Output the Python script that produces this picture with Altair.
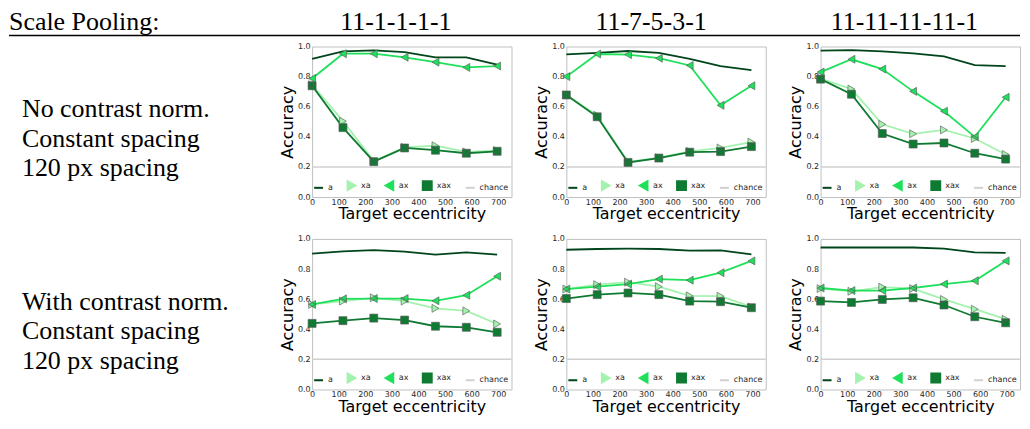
import altair as alt
import pandas as pd

# ---------------- data ----------------
ecc = [0, 116, 232, 348, 464, 580, 696]
series_names = ["a", "xa", "ax", "xax", "chance"]
chance_level = 0.2

# row 1 (no contrast norm.)
p11_a = [0.917, 0.967, 0.974, 0.963, 0.928, 0.928, 0.880]
p11_xa = [0.746, 0.504, 0.239, 0.330, 0.341, 0.300, 0.309]
p11_ax = [0.787, 0.952, 0.952, 0.928, 0.896, 0.861, 0.870]
p11_xax = [0.739, 0.461, 0.235, 0.326, 0.311, 0.291, 0.304]

p12_a = [0.948, 0.957, 0.970, 0.957, 0.917, 0.870, 0.843]
p12_xa = [0.678, 0.543, 0.233, 0.261, 0.304, 0.326, 0.365]
p12_ax = [0.800, 0.950, 0.946, 0.922, 0.874, 0.609, 0.739]
p12_xax = [0.678, 0.533, 0.230, 0.259, 0.298, 0.302, 0.335]

p13_a = [0.972, 0.976, 0.967, 0.954, 0.935, 0.876, 0.870]
p13_xa = [0.787, 0.717, 0.483, 0.420, 0.446, 0.389, 0.283]
p13_ax = [0.830, 0.915, 0.850, 0.702, 0.570, 0.400, 0.663]
p13_xax = [0.783, 0.683, 0.422, 0.352, 0.359, 0.291, 0.252]

# row 2 (with contrast norm.)
p21_a = [0.902, 0.917, 0.926, 0.915, 0.896, 0.911, 0.896]
p21_xa = [0.565, 0.587, 0.609, 0.587, 0.539, 0.522, 0.435]
p21_ax = [0.565, 0.602, 0.604, 0.604, 0.589, 0.626, 0.752]
p21_xax = [0.439, 0.457, 0.474, 0.461, 0.420, 0.413, 0.380]

p22_a = [0.928, 0.933, 0.935, 0.933, 0.922, 0.924, 0.898]
p22_xa = [0.667, 0.696, 0.713, 0.683, 0.622, 0.620, 0.548]
p22_ax = [0.667, 0.683, 0.700, 0.733, 0.726, 0.776, 0.854]
p22_xax = [0.604, 0.630, 0.641, 0.630, 0.587, 0.583, 0.543]

p23_a = [0.943, 0.943, 0.943, 0.943, 0.935, 0.911, 0.907]
p23_xa = [0.670, 0.652, 0.680, 0.670, 0.598, 0.533, 0.467]
p23_ax = [0.674, 0.657, 0.657, 0.674, 0.700, 0.722, 0.854]
p23_xax = [0.587, 0.578, 0.598, 0.609, 0.561, 0.483, 0.443]

corner_header = "Scale Pooling:"
col_headers = ["11-1-1-1-1", "11-7-5-3-1", "11-11-11-11-1"]
row_labels = [
    ["No contrast norm.", "Constant spacing", "120 px spacing"],
    ["With contrast norm.", "Constant spacing", "120 px spacing"],
]
x_ticks = [0, 100, 200, 300, 400, 500, 600, 700]
y_ticks = [0.0, 0.2, 0.4, 0.6, 0.8, 1.0]

panels = [
    [(p11_a, p11_xa, p11_ax, p11_xax), (p12_a, p12_xa, p12_ax, p12_xax), (p13_a, p13_xa, p13_ax, p13_xax)],
    [(p21_a, p21_xa, p21_ax, p21_xax), (p22_a, p22_xa, p22_ax, p22_xax), (p23_a, p23_xa, p23_ax, p23_xax)],
]

# ---------------- style ----------------
colors = ["#00441b", "#a3f2ad", "#1fe05a", "#0e7a32", "#d0d0d0"]
shapes = ["stroke", "triangle-right", "triangle-left", "square", "stroke"]
PW, PH = 200, 151
LABEL_W = 249
HSP = 55
VSP = 42
TOTAL_W = LABEL_W + 3 * PW + 3 * HSP
SERIF = "Liberation Serif"
SANS = "DejaVu Sans"


def make_legend():
    return alt.Legend(
        title=None, orient="none", legendX=1, legendY=134,
        direction="horizontal", columns=5, columnPadding=10, gridAlign="each",
        labelFont=SANS, labelFontSize=8, labelColor="#222222", labelOffset=4,
        symbolSize=80, symbolStrokeWidth=2, padding=0, rowPadding=0,
    )


def panel(vals):
    rows = []
    for name, ys in zip(series_names[:4], vals):
        for xv, yv in zip(ecc, ys):
            rows.append({"series": name, "ecc": xv, "acc": yv})
    df = pd.DataFrame(rows)
    chance_df = pd.DataFrame({"series": ["chance"], "acc": [chance_level]})

    xenc = alt.X("ecc:Q", scale=alt.Scale(domain=[0, 750], nice=False),
                 axis=alt.Axis(values=x_ticks, title="Target eccentricity"))
    yenc = alt.Y("acc:Q", scale=alt.Scale(domain=[0, 1], nice=False),
                 axis=alt.Axis(values=y_ticks, format=".1f", title="Accuracy"))
    cscale = alt.Scale(domain=series_names, range=colors)
    sscale = alt.Scale(domain=series_names, range=shapes)

    rule = alt.Chart(chance_df).mark_rule(strokeWidth=1.5).encode(
        y=yenc, color=alt.Color("series:N", scale=cscale, legend=make_legend()))
    lines = alt.Chart(df).mark_line(strokeWidth=1.8).encode(
        x=xenc, y=yenc, color=alt.Color("series:N", scale=cscale, legend=make_legend()))
    pts = alt.Chart(df).transform_filter(alt.datum.series != "a").mark_point(
        filled=True, size=64, opacity=1).encode(
        x=xenc, y=yenc,
        color=alt.Color("series:N", scale=cscale, legend=make_legend()),
        shape=alt.Shape("series:N", scale=sscale, legend=make_legend()))
    outline = alt.Chart(df).transform_filter(alt.datum.series != "a").mark_point(
        filled=False, size=64, color="#5a5a5a", strokeWidth=0.8, opacity=0.8).encode(
        x=xenc, y=yenc, shape=alt.Shape("series:N", scale=sscale, legend=None))
    return alt.layer(rule, lines, pts, outline).properties(width=PW, height=PH)


# header items live in the first label cell (drawn above it)
hdf = pd.DataFrame({"h": [corner_header] + col_headers, "i": list(range(4))})
header_x = [0, 388, 644, 898]
header_align = ["left", "center", "center", "center"]


def row_label(lines, with_header):
    df = pd.DataFrame({"label": ["\n".join(lines)]})
    layers = [alt.Chart(df).mark_text(
        align="left", baseline="alphabetic", font=SERIF, fontSize=26,
        lineHeight=29.5, lineBreak="\n", color="black").encode(
        text="label:N", x=alt.value(13), y=alt.value(71))]
    if with_header:
        for k in range(4):
            layers.append(
                alt.Chart(hdf).transform_filter(alt.datum.i == k).mark_text(
                    align=header_align[k], baseline="alphabetic", font=SERIF,
                    fontSize=26, color="black").encode(
                    text="h:N", x=alt.value(header_x[k]), y=alt.value(-17)))
        layers.append(
            alt.Chart(hdf).transform_filter(alt.datum.i == 0).mark_rule(
                color="black", strokeWidth=1.5).encode(
                x=alt.value(0), x2=alt.value(TOTAL_W), y=alt.value(-11)))
    return alt.layer(*layers).properties(
        width=LABEL_W, height=PH, view=alt.ViewBackground(strokeOpacity=0))


cells = []
for r in range(2):
    cells.append(row_label(row_labels[r], r == 0))
    cells.extend(panel(v) for v in panels[r])

chart = alt.concat(
    *cells, columns=4, spacing=alt.RowColnumber(row=VSP, column=HSP),
    bounds="flush", align="each"
).resolve_scale(color="independent", shape="independent").resolve_legend(
    color="independent", shape="independent")

chart = chart.properties(padding=0).configure_view(
    stroke="#c0c0c0", strokeWidth=1
).configure_axis(
    labelFont=SANS, labelFontSize=8, labelColor="#262626", labelFlush=False,
    titleFont=SANS, titleFontSize=16, titleFontWeight="normal", titleColor="black",
    grid=False, domain=False, ticks=False,
).configure_axisX(labelPadding=1, titlePadding=0).configure_axisY(
    labelPadding=2, titlePadding=2)

chart.save("out.html", embed_options={"renderer": "svg", "actions": False})
